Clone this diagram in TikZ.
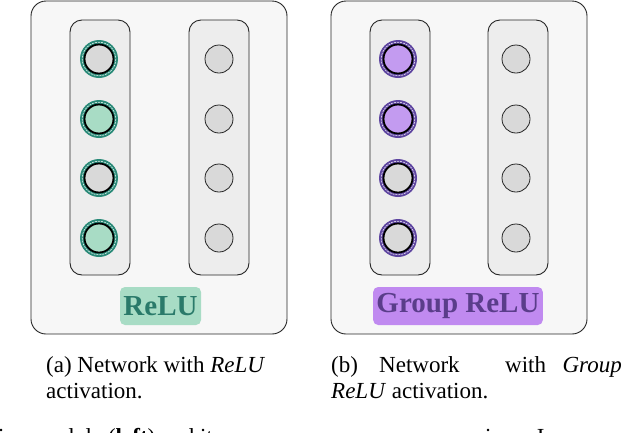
\documentclass[tikz,border=0pt]{standalone}
\usepackage{fontspec}
\setmainfont{Liberation Serif}
\begin{document}
\begin{tikzpicture}[x=1pt,y=-1pt,
  outer/.style={draw=black!85,line width=0.9pt,rounded corners=15pt,fill=black!3},
  col/.style={draw=black!85,line width=0.9pt,rounded corners=12pt,fill=black!7},
  captxt/.style={font=\fontsize{23}{26}\selectfont,anchor=base west,inner sep=0pt}]
\definecolor{teal1}{HTML}{2A8A78}\definecolor{mint}{HTML}{A8DCC5}\definecolor{tealtxt}{HTML}{2A7A6A}
\definecolor{purp1}{HTML}{5E45A0}\definecolor{lav}{HTML}{C39BF0}\definecolor{lavbox}{HTML}{C08AF0}\definecolor{purtxt}{HTML}{5A3D8A}
\definecolor{gr}{HTML}{D9D9D9}
\useasboundingbox (0,0) rectangle (622,432);
\clip (0,0) rectangle (622,432);
\newcommand{\ringnode}[4]{% x y ringcolor fill
  \fill[#3] (#1,#2) circle (19);
  \draw[white,line width=0.5pt,dash pattern=on 2pt off 1pt] (#1,#2) circle (16.8);
  \draw[black,line width=1.8pt,fill=#4] (#1,#2) circle (14.5);}
\newcommand{\plain}[2]{\draw[black!85,line width=0.8pt,fill=gr] (#1,#2) circle (14);}
% panel a
\node[outer,minimum width=256pt,minimum height=333pt] (pa) at (159,167.5) {};
\node[col,minimum width=60pt,minimum height=255pt] (ca1) at (100,147.5) {};
\node[col,minimum width=60pt,minimum height=255pt] (ca2) at (219,147.5) {};
\ringnode{99}{59}{teal1}{gr}
\ringnode{99}{119}{teal1}{mint}
\ringnode{99}{178}{teal1}{gr}
\ringnode{99}{238}{teal1}{mint}
\foreach \y in {59,119,178,238} {\plain{219}{\y}}
\node[fill=mint,rounded corners=5pt,minimum width=81pt,minimum height=38pt,text=tealtxt,font=\fontsize{29}{32}\selectfont\bfseries] (la) at (160.5,306) {ReLU};
% panel b
\node[outer,minimum width=256pt,minimum height=333pt] (pb) at (459,167.5) {};
\node[col,minimum width=60pt,minimum height=255pt] (cb1) at (400,147.5) {};
\node[col,minimum width=60pt,minimum height=255pt] (cb2) at (518,147.5) {};
\ringnode{398}{59}{purp1}{lav}
\ringnode{398}{119}{purp1}{lav}
\ringnode{398}{178}{purp1}{gr}
\ringnode{398}{238}{purp1}{gr}
\foreach \y in {59,119,178,238} {\plain{516}{\y}}
\node[fill=lavbox,rounded corners=5pt,minimum width=164pt,minimum height=38pt,text=purtxt,font=\fontsize{29}{32}\selectfont\bfseries] (lb) at (458,306) {Group ReLU};
% captions
\node[captxt] (a1) at (46,372) {(a) Network with \textit{ReLU}};
\node[captxt] (a2) at (46,398) {activation.};
\node[captxt] (b1) at (331,372) {(b)};
\node[captxt] (b2) at (379,372) {Network};
\node[captxt] (b3) at (505,372) {with};
\node[captxt,anchor=base east] (b4) at (622,372) {\textit{Group}};
\node[captxt] (b5) at (331,398) {\textit{ReLU} activation.};
\node[captxt] (c1) at (-2,444) {ion module (\textbf{left}) and its};
\node[captxt] (c2) at (485,444) {ions. In};
\end{tikzpicture}
\end{document}
